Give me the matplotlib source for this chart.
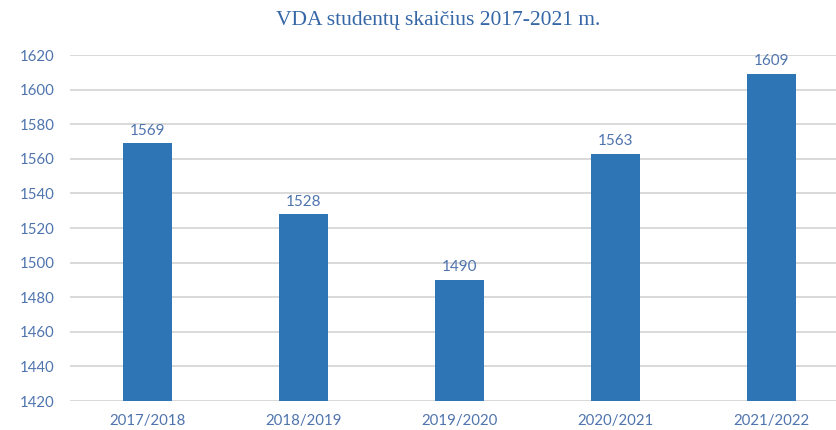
import matplotlib.pyplot as plt

plt.rcParams['font.family'] = ['Lato', 'DejaVu Sans']

# --- DATA ---
years = ['2017/2018', '2018/2019', '2019/2020', '2020/2021', '2021/2022']
students = [1569, 1528, 1490, 1563, 1609]
y_ticks = list(range(1420, 1621, 20))

bar_color = '#2E75B6'
text_color = '#4F74AE'

fig = plt.figure(figsize=(8.36, 4.30), dpi=100)
ax = fig.add_axes([70 / 836, 29 / 430, 779 / 836, 346 / 430])

x = range(len(years))
bars = ax.bar(x, students, width=0.315, color=bar_color, zorder=3)

for xi, v in zip(x, students):
    ax.annotate(str(v), xy=(xi, v), xytext=(0, 4), textcoords='offset points',
                ha='center', va='bottom', fontsize=11, color=text_color)

ax.set_xlim(-0.5, 4.5)
ax.set_ylim(1420, 1620)
ax.set_yticks(y_ticks)
ax.set_xticks(list(x))
ax.set_xticklabels(years)
ax.tick_params(axis='both', length=0, labelsize=10.8, labelcolor=text_color)
ax.tick_params(axis='x', pad=9)
ax.tick_params(axis='y', pad=11)

ax.grid(axis='y', color='#D9D9D9', linewidth=1.4, zorder=0)
for s in ax.spines.values():
    s.set_visible(False)

fig.text(438 / 836, 1 - 21 / 430, 'VDA studentų skaičius 2017-2021 m.',
         ha='center', va='center', fontsize=15.5, color='#3567A6',
         family=['Liberation Serif', 'DejaVu Serif'])

fig.savefig('out.png', dpi=100)
